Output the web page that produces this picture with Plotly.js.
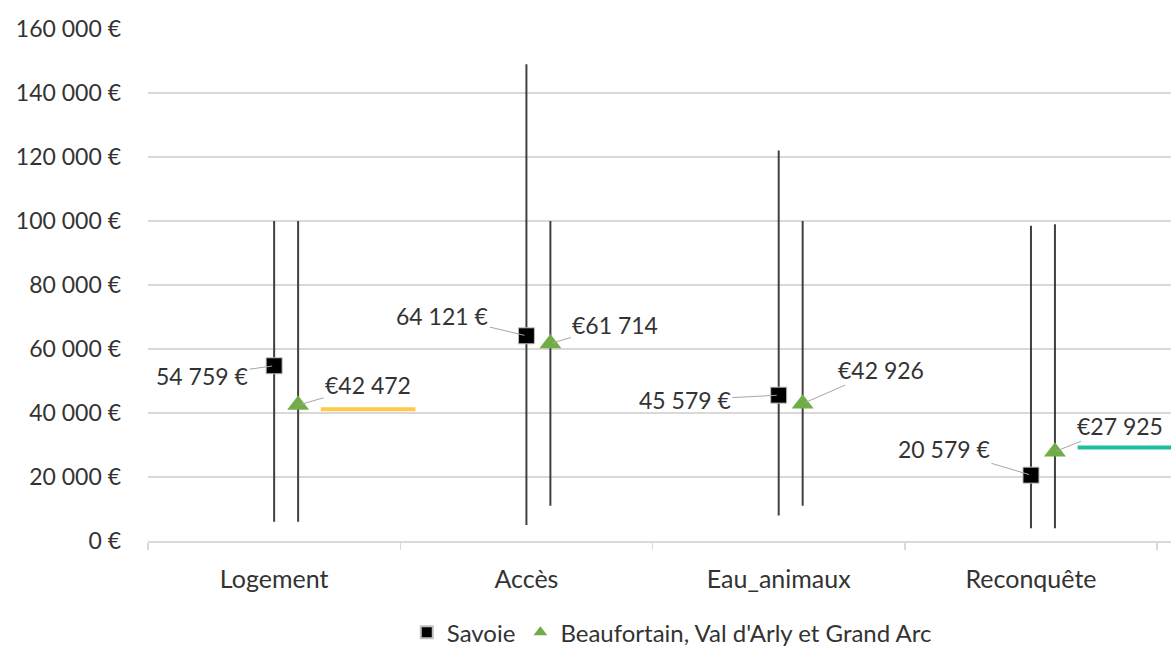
<!DOCTYPE html>
<html>
<head>
<meta charset="utf-8">
<script src="https://cdn.plot.ly/plotly-3.0.1.min.js"></script>
<style>html,body{margin:0;padding:0;background:#fff;}#chart{width:1171px;height:651px;}</style>
</head>
<body>
<div id="chart"></div>
<script>
// ---- data ----
const categories = ["Logement", "Accès", "Eau_animaux", "Reconquête"];
const savoieValues = [54759, 64121, 45579, 20579];
const savoieMin = [6000, 5000, 8000, 4000];
const savoieMax = [100000, 149000, 122000, 98500];
const beaufValues = [42472, 61714, 42926, 27925];
const beaufMin = [6000, 11000, 11000, 4000];
const beaufMax = [100000, 100000, 100000, 99000];
const refValues = [41200, null, null, 29200];
const refColors = ["#FFC94A", null, null, "#1DBFA0"];
const yTicks = [0, 20000, 40000, 60000, 80000, 100000, 120000, 140000, 160000];
const seriesNames = ["Savoie", "Beaufortain, Val d'Arly et Grand Arc"];

// ---- layout helpers ----
const idx = categories.map((c, i) => i);
const beaufShift = 0.095;
const xb = idx.map(i => i + beaufShift);
const FONT = "Lato, 'Open Sans', sans-serif";
const TXT = "#333333";

function fmtGroup(v) {
  return String(Math.round(v)).replace(/\B(?=(\d{3})+(?!\d))/g, " ");
}

const traces = [];
traces.push({
  type: "scatter", mode: "markers", name: seriesNames[0],
  x: idx, y: savoieValues,
  marker: {symbol: "square", size: 16, color: "#000000", line: {color: "#bfbfbf", width: 1}},
  error_y: {type: "data", symmetric: false,
    array: savoieValues.map((v, i) => savoieMax[i] - v),
    arrayminus: savoieValues.map((v, i) => v - savoieMin[i]),
    width: 0, thickness: 2, color: "#404040"},
  hoverinfo: "skip"
});
traces.push({
  type: "scatter", mode: "markers", name: seriesNames[1],
  x: xb, y: beaufValues,
  marker: {symbol: "triangle-up", size: 19, color: "#70AD47"},
  error_y: {type: "data", symmetric: false,
    array: beaufValues.map((v, i) => beaufMax[i] - v),
    arrayminus: beaufValues.map((v, i) => v - beaufMin[i]),
    width: 0, thickness: 2, color: "#404040"},
  hoverinfo: "skip"
});
refValues.forEach((v, i) => {
  if (v === null) return;
  traces.push({
    type: "scatter", mode: "lines", showlegend: false, hoverinfo: "skip",
    x: [i + 0.185, i + 0.56], y: [v, v],
    line: {color: refColors[i], width: 4}
  });
});

// label offsets (px) relative to markers
const savOff = [[-72, 10], [-84, -20], [-94, 5], [-87, -26]];
const beaOff = [[70, -20], [65, -19], [78, -34], [65, -26]];
const annotations = [];
savoieValues.forEach((v, i) => {
  annotations.push({
    x: idx[i], y: v, xref: "x", yref: "y",
    text: fmtGroup(v) + " €", showarrow: true, arrowhead: 0, arrowwidth: 1,
    arrowcolor: "#a6a6a6", ax: savOff[i][0], ay: savOff[i][1], standoff: 2,
    font: {family: FONT, size: 23, color: TXT}
  });
});
beaufValues.forEach((v, i) => {
  annotations.push({
    x: xb[i], y: v, xref: "x", yref: "y",
    text: "€" + fmtGroup(v), showarrow: true, arrowhead: 0, arrowwidth: 1,
    arrowcolor: "#a6a6a6", ax: beaOff[i][0], ay: beaOff[i][1], standoff: 2,
    font: {family: FONT, size: 23, color: TXT}
  });
});

const layout = {
  width: 1171, height: 651,
  margin: {l: 148, r: 0, t: 29, b: 110},
  paper_bgcolor: "#ffffff", plot_bgcolor: "#ffffff",
  font: {family: FONT, size: 22, color: TXT},
  showlegend: true,
  legend: {orientation: "h", xref: "paper", x: 0.512, xanchor: "center",
    yref: "container", y: 0.028, yanchor: "middle",
    font: {family: FONT, size: 24, color: TXT}, itemsizing: "constant"},
  xaxis: {
    automargin: false,
    range: [-0.5, 3.555], tickmode: "array", tickvals: idx, ticktext: categories,
    showgrid: false, zeroline: false, showline: true, linecolor: "#d9d9d9", linewidth: 1.5,
    ticks: "", ticklabelstandoff: 15,
    minor: {tickmode: "array", tickvals: [-0.5, 0.5, 1.5, 2.5, 3.5], ticks: "outside", ticklen: 7, tickcolor: "#d9d9d9", tickwidth: 1.5, showgrid: false},
    tickfont: {family: FONT, size: 25, color: TXT}, fixedrange: true
  },
  yaxis: {
    automargin: false,
    range: [0, 160000], tickmode: "array", tickvals: yTicks,
    ticktext: yTicks.map(v => fmtGroup(v) + " €"),
    showgrid: true, gridcolor: "#d9d9d9", gridwidth: 1.5, zeroline: false, showline: false,
    ticks: "", ticklabelstandoff: 26,
    tickfont: {family: FONT, size: 23, color: TXT}, fixedrange: true
  },
  annotations: annotations
};

Plotly.newPlot("chart", traces, layout, {staticPlot: true, displayModeBar: false});
</script>
</body>
</html>
